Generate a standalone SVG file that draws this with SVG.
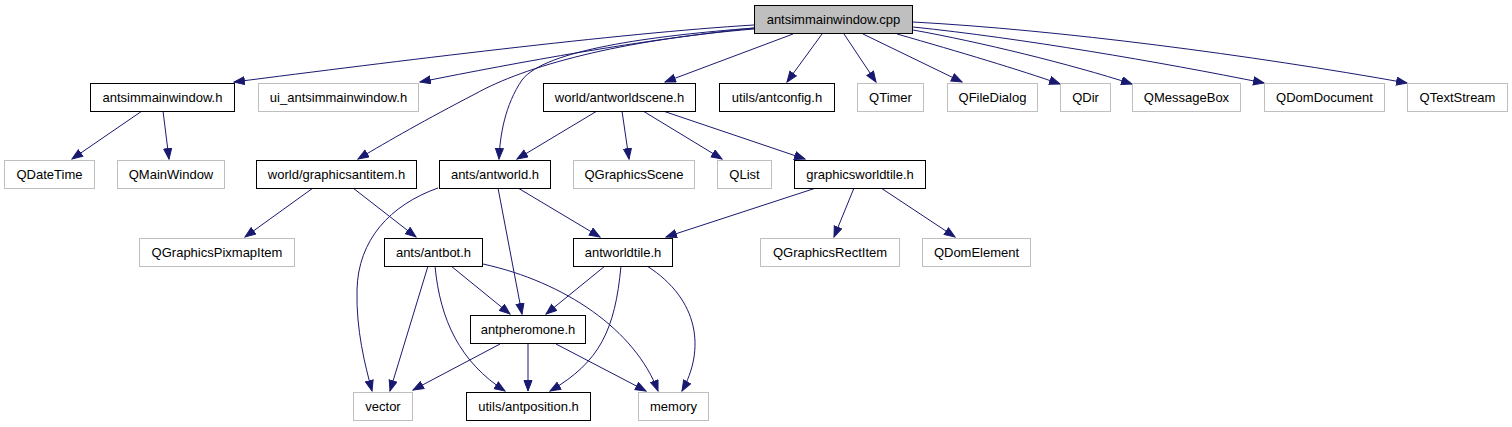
<svg xmlns="http://www.w3.org/2000/svg" width="1512" height="427" viewBox="0 0 1512 427">
<defs>
<marker id="arr" markerWidth="12" markerHeight="10" refX="11" refY="4.5" orient="auto" markerUnits="userSpaceOnUse">
<path d="M0.5,0.5 L11,4.5 L0.5,8.5 z" fill="#191970" stroke="#191970" stroke-width="1"/>
</marker>
<style>
.n rect{fill:#fff;stroke:#000;stroke-width:1}
.g rect{fill:#fff;stroke:#bfbfbf;stroke-width:1}
.root rect{fill:#bfbfbf;stroke:#000;stroke-width:1}
text{font-family:"Liberation Sans",Arial,sans-serif;font-size:13px;fill:#000;text-anchor:middle}
#edges path{fill:none;stroke:#191970;stroke-width:1;marker-end:url(#arr)}
</style>
</defs>
<rect width="1512" height="427" fill="#fff"/>
<g id="edges">
<path d="M754,25 C620,33 390,62 234,82"/>
<path d="M754,28 C640,40 520,62 420,82"/>
<path d="M754,29 C620,40 525,66 475,94 C425,120 390,140 358,159"/>
<path d="M754,28 C650,36 545,50 522,80 C505,105 500,135 499,159"/>
<path d="M793,34 L665,82"/>
<path d="M822,34 L787,82"/>
<path d="M844,34 L876,82"/>
<path d="M863,34 L962,82"/>
<path d="M897,34 C960,52 1020,70 1060,84"/>
<path d="M913,30 C980,42 1070,64 1132,84"/>
<path d="M913,27 C1020,38 1160,62 1264,83"/>
<path d="M913,22 C1060,30 1250,55 1407,83"/>
<path d="M142,111 L72,159"/>
<path d="M163,111 L169,159"/>
<path d="M597,111 L517,159"/>
<path d="M622,111 L629,159"/>
<path d="M643,111 L722,159"/>
<path d="M663,111 L805,159"/>
<path d="M313,188 L245,237"/>
<path d="M353,188 L416,237"/>
<path d="M438,188 C390,205 358,240 357,290 C356,330 365,365 372,391"/>
<path d="M498,188 L522,314"/>
<path d="M518,188 L600,237"/>
<path d="M816,188 L666,237"/>
<path d="M854,188 L834,237"/>
<path d="M881,188 L955,237"/>
<path d="M428,266 L390,391"/>
<path d="M435,266 C440,320 460,362 505,391"/>
<path d="M451,266 L510,314"/>
<path d="M483,264 C565,282 635,330 658,391"/>
<path d="M605,266 L546,314"/>
<path d="M621,266 C615,330 600,362 550,391"/>
<path d="M647,266 C700,300 705,350 682,391"/>
<path d="M500,344 L413,390"/>
<path d="M528,344 L528,391"/>
<path d="M556,344 L646,391"/>
</g>
<g id="n_cpp" class="root"><rect x="754.5" y="5.5" width="158" height="28"/><text x="833.5" y="24">antsimmainwindow.cpp</text></g>
<g id="n_mainwindow_h" class="n"><rect x="90.5" y="83.5" width="144" height="28"/><text x="162.5" y="102">antsimmainwindow.h</text></g>
<g id="n_ui" class="g"><rect x="258.5" y="83.5" width="160" height="28"/><text x="338.5" y="102">ui_antsimmainwindow.h</text></g>
<g id="n_antworldscene" class="n"><rect x="543.5" y="83.5" width="152" height="28"/><text x="619.5" y="102">world/antworldscene.h</text></g>
<g id="n_antconfig" class="n"><rect x="719.5" y="83.5" width="115" height="28"/><text x="777" y="102">utils/antconfig.h</text></g>
<g id="n_qtimer" class="g"><rect x="857.5" y="83.5" width="66" height="28"/><text x="890.5" y="102">QTimer</text></g>
<g id="n_qfiledialog" class="g"><rect x="947.5" y="83.5" width="90" height="28"/><text x="992.5" y="102">QFileDialog</text></g>
<g id="n_qdir" class="g"><rect x="1060.5" y="83.5" width="50" height="28"/><text x="1085.5" y="102">QDir</text></g>
<g id="n_qmessagebox" class="g"><rect x="1132.5" y="83.5" width="108" height="28"/><text x="1186.5" y="102">QMessageBox</text></g>
<g id="n_qdomdocument" class="g"><rect x="1264.5" y="83.5" width="120" height="28"/><text x="1324.5" y="102">QDomDocument</text></g>
<g id="n_qtextstream" class="g"><rect x="1407.5" y="83.5" width="100" height="28"/><text x="1457.5" y="102">QTextStream</text></g>
<g id="n_qdatetime" class="g"><rect x="4.5" y="160.5" width="90" height="28"/><text x="49.5" y="179">QDateTime</text></g>
<g id="n_qmainwindow" class="g"><rect x="117.5" y="160.5" width="107" height="28"/><text x="171" y="179">QMainWindow</text></g>
<g id="n_graphicsantitem" class="n"><rect x="256.5" y="160.5" width="160" height="28"/><text x="336.5" y="179">world/graphicsantitem.h</text></g>
<g id="n_antworld" class="n"><rect x="439.5" y="160.5" width="111" height="28"/><text x="495" y="179">ants/antworld.h</text></g>
<g id="n_qgraphicsscene" class="g"><rect x="573.5" y="160.5" width="121" height="28"/><text x="634" y="179">QGraphicsScene</text></g>
<g id="n_qlist" class="g"><rect x="717.5" y="160.5" width="54" height="28"/><text x="744.5" y="179">QList</text></g>
<g id="n_graphicsworldtile" class="n"><rect x="794.5" y="160.5" width="131" height="28"/><text x="860" y="179">graphicsworldtile.h</text></g>
<g id="n_qgraphicspixmapitem" class="g"><rect x="139.5" y="238.5" width="155" height="28"/><text x="217" y="257">QGraphicsPixmapItem</text></g>
<g id="n_antbot" class="n"><rect x="384.5" y="238.5" width="98" height="28"/><text x="433.5" y="257">ants/antbot.h</text></g>
<g id="n_antworldtile" class="n"><rect x="573.5" y="238.5" width="99" height="28"/><text x="623" y="257">antworldtile.h</text></g>
<g id="n_qgraphicsrectitem" class="g"><rect x="760.5" y="238.5" width="139" height="28"/><text x="830" y="257">QGraphicsRectItem</text></g>
<g id="n_qdomelement" class="g"><rect x="922.5" y="238.5" width="108" height="28"/><text x="976.5" y="257">QDomElement</text></g>
<g id="n_antpheromone" class="n"><rect x="470.5" y="315.5" width="115" height="28"/><text x="528" y="334">antpheromone.h</text></g>
<g id="n_vector" class="g"><rect x="353.5" y="392.5" width="59" height="28"/><text x="383" y="411">vector</text></g>
<g id="n_antposition" class="n"><rect x="466.5" y="392.5" width="124" height="28"/><text x="528.5" y="411">utils/antposition.h</text></g>
<g id="n_memory" class="g"><rect x="638.5" y="392.5" width="70" height="28"/><text x="673.5" y="411">memory</text></g>
</svg>
